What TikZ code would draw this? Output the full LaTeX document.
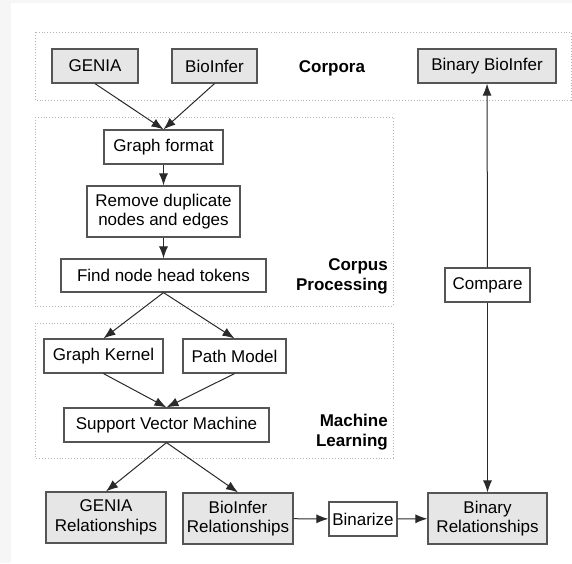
\documentclass[tikz,border=0pt]{standalone}
\usepackage{fontspec}
\setmainfont{Liberation Sans}
\usetikzlibrary{arrows.meta}
\definecolor{boxline}{HTML}{555555}
\definecolor{boxfill}{HTML}{E6E6E6}
\definecolor{groupline}{HTML}{B4B4B4}
\definecolor{edge}{HTML}{2A2A2A}
\definecolor{pagebg}{HTML}{F6F6F6}
\begin{document}
\begin{tikzpicture}[x=1pt,y=-1pt,
  font=\fontsize{17}{19.6}\selectfont,
  proc/.style={draw=boxline,line width=1.2pt,fill=white,inner sep=0pt,align=center},
  data/.style={proc,fill=boxfill},
  group/.style={draw=groupline,line width=0.9pt,dotted},
  grouplabel/.style={font=\fontsize{17}{19.6}\selectfont\bfseries,align=right,inner sep=0pt},
  flow/.style={draw=edge,line width=1pt,-{Latex[length=12pt,width=9pt]}}]
\useasboundingbox (0,0) rectangle (572,563);
% page background
\fill[pagebg] (0,0) rectangle (572,563);
\fill[white] (11,3) rectangle (572,563);

% group frames
\draw[group] (35,32) rectangle (571,100);
\draw[group] (35,117) rectangle (393,306);
\draw[group] (35,323) rectangle (393,458);

% group labels
\node[grouplabel,anchor=center] (lcorp) at (332,68) {Corpora};
\node[grouplabel,anchor=east] (lproc) at (388,276.5) {Corpus\\Processing};
\node[grouplabel,anchor=east] (lml) at (388,432) {Machine\\Learning};

% corpora
\node[data,minimum width=86pt,minimum height=34pt] (genia) at (95,66) {GENIA};
\node[data,minimum width=85pt,minimum height=34pt] (bioinfer) at (214.5,66) {BioInfer};
\node[data,minimum width=138pt,minimum height=34pt] (binbio) at (487,66) {Binary BioInfer};

% corpus processing
\node[proc,minimum width=119pt,minimum height=34pt] (graph) at (163.5,147) {Graph format};
\node[proc,minimum width=153pt,minimum height=51pt] (remove) at (163.5,211.5) {Remove duplicate\\nodes and edges};
\node[proc,minimum width=205pt,minimum height=33pt] (find) at (163.5,275.5) {Find node head tokens};

% machine learning
\node[proc,minimum width=119pt,minimum height=34pt] (gk) at (103.5,356) {Graph Kernel};
\node[proc,minimum width=103pt,minimum height=34pt] (pm) at (234.5,356) {Path Model};
\node[proc,minimum width=205pt,minimum height=34pt] (svm) at (166.5,425) {Support Vector Machine};

% results
\node[data,minimum width=120pt,minimum height=51pt] (geniarel) at (106,517.5) {GENIA\\Relationships};
\node[data,minimum width=110pt,minimum height=51pt] (biorel) at (238,518.5) {BioInfer\\Relationships};
\node[proc,minimum width=68pt,minimum height=34pt] (binarize) at (363,519) {Binarize};
\node[data,minimum width=119pt,minimum height=51pt] (binrel) at (487.5,518.5) {Binary\\Relationships};
\node[proc,minimum width=85pt,minimum height=34pt] (compare) at (487.5,285) {Compare};

% connectors
\draw[flow] (genia.south) -- (graph.north);
\draw[flow] (bioinfer.south) -- (graph.north);
\draw[flow] (graph) -- (remove);
\draw[flow] (remove) -- (find);
\draw[flow] (find.south) -- (gk.north);
\draw[flow] (find.south) -- (pm.north);
\draw[flow] (gk.south) -- (svm.north);
\draw[flow] (pm.south) -- (svm.north);
\draw[flow] (svm.south) -- (geniarel.north);
\draw[flow] (svm.south) -- (biorel.north);
\draw[flow] (biorel) -- (binarize);
\draw[flow] (binarize) -- (binrel);
\draw[flow] (compare) -- (binbio);
\draw[flow] (compare) -- (binrel);
\end{tikzpicture}
\end{document}
